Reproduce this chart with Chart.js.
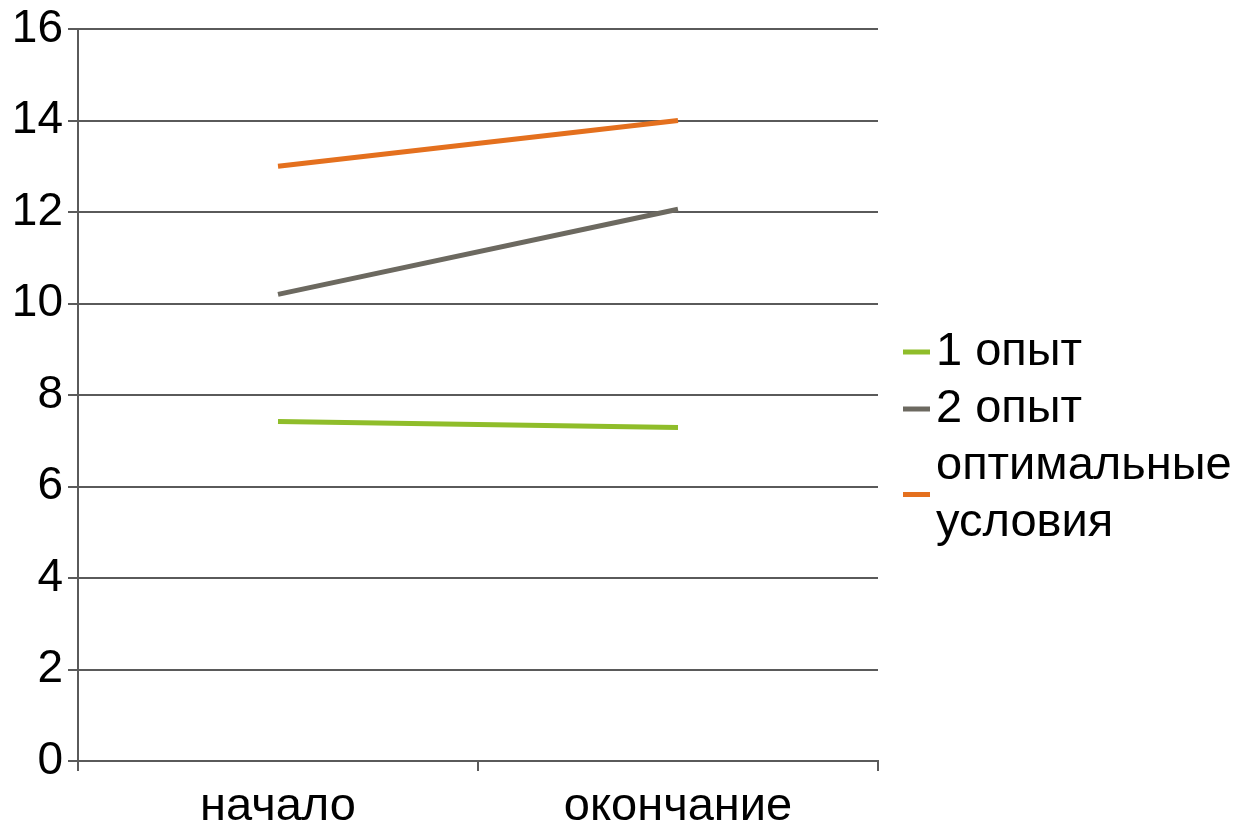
<!DOCTYPE html>
<html>
<head>
<meta charset="utf-8">
<script src="https://cdn.jsdelivr.net/npm/chart.js@4"></script>
<style>
  html, body { margin: 0; padding: 0; background: #fff; }
  #wrap { width: 1246px; height: 825px; }
</style>
</head>
<body>
<div id="wrap"><canvas id="c" width="1246" height="825"></canvas></div>
<script>
const categories = ['начало', 'окончание'];
const series1 = [7.42, 7.29];   // 1 опыт
const series2 = [10.2, 12.06];  // 2 опыт
const series3 = [13.0, 14.0];   // оптимальные условия
const seriesNames = ['1 опыт', '2 опыт', ['оптимальные', 'условия']];
const seriesColors = ['#8fbd2a', '#6c6960', '#e4701e'];
const yTicks = [0, 2, 4, 6, 8, 10, 12, 14, 16];

const FONT = 'Liberation Sans, Arial, sans-serif';
const AXIS = '#5a5a5a';

// Legend drawn at the right side: short line sample, then (multi-line) text
const sideLegend = {
  id: 'sideLegend',
  afterDraw(chart) {
    const ctx = chart.ctx;
    const lineH = 57;
    let y = 352;
    ctx.save();
    ctx.font = '47px ' + FONT;
    ctx.textBaseline = 'middle';
    ctx.fillStyle = '#000';
    chart.data.datasets.forEach(ds => {
      const lines = Array.isArray(ds.label) ? ds.label : [ds.label];
      const mid = y + (lines.length - 1) * lineH / 2;
      ctx.strokeStyle = ds.borderColor;
      ctx.lineWidth = 5;
      ctx.beginPath();
      ctx.moveTo(903, mid);
      ctx.lineTo(930, mid);
      ctx.stroke();
      lines.forEach((t, i) => ctx.fillText(t, 936, y + i * lineH));
      y += lines.length * lineH;
    });
    ctx.restore();
  }
};

const values = [series1, series2, series3];
new Chart(document.getElementById('c'), {
  type: 'line',
  data: {
    labels: categories,
    datasets: values.map((v, i) => ({
      label: seriesNames[i],
      data: v,
      borderColor: seriesColors[i],
      backgroundColor: seriesColors[i],
      borderWidth: 5,
      pointRadius: 0,
      tension: 0,
      fill: false
    }))
  },
  options: {
    responsive: false,
    animation: false,
    layout: { padding: { top: 29, right: 368, left: 0, bottom: 0 } },
    plugins: { legend: { display: false }, tooltip: { enabled: false } },
    scales: {
      x: {
        offset: true,
        grid: { offset: true, drawOnChartArea: false, drawTicks: true, tickLength: 10, color: AXIS, lineWidth: 2 },
        border: { display: true, color: AXIS, width: 2 },
        ticks: { color: '#000', font: { family: FONT, size: 47 }, padding: 8, maxRotation: 0 },
        afterFit(s) { s.height = 64; }
      },
      y: {
        min: 0, max: 16,
        afterBuildTicks(s) { s.ticks = yTicks.map(v => ({ value: v })); },
        grid: { color: AXIS, lineWidth: 2, tickLength: 10 },
        border: { display: true, color: AXIS, width: 2 },
        ticks: { color: '#000', font: { family: FONT, size: 46, lineHeight: 1 }, padding: 5 },
        afterFit(s) { s.width = 78; }
      }
    }
  },
  plugins: [sideLegend]
});
</script>
</body>
</html>
